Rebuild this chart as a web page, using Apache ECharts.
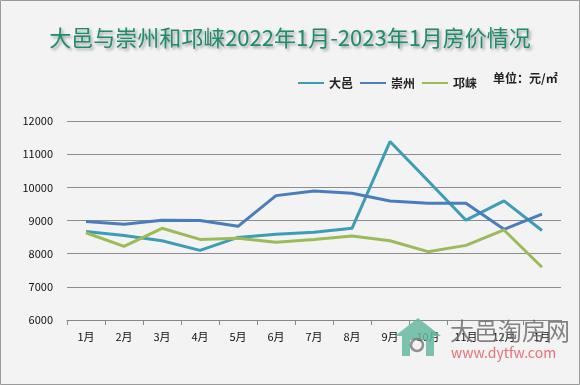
<!DOCTYPE html>
<html><head><meta charset="utf-8">
<script src="https://cdn.jsdelivr.net/npm/echarts@6/dist/echarts.min.js"></script>
<style>html,body{margin:0;padding:0;background:#fff}#c{width:580px;height:385px}</style>
</head><body><div id="c"></div>
<script>
const categories = ['1月','2月','3月','4月','5月','6月','7月','8月','9月','10月','11月','12月','1月'];
const dayi = [8670, 8550, 8390, 8100, 8490, 8585, 8645, 8765, 11380, 10200, 9010, 9590, 8700];
const chongzhou = [8970, 8885, 9005, 9000, 8825, 9750, 9890, 9820, 9590, 9520, 9520, 8735, 9190];
const qionglai = [8630, 8220, 8765, 8430, 8465, 8345, 8430, 8530, 8390, 8060, 8250, 8715, 7590];
const seriesNames = ['大邑','崇州','邛崃'];
const yTicks = [6000, 7000, 8000, 9000, 10000, 11000, 12000];

const chart = echarts.init(document.getElementById('c'), null, {renderer:'canvas'});
const font = '"Microsoft YaHei","Noto Sans CJK SC",sans-serif';
const mk = (name, data, color) => ({
  name, type:'line', data, symbol:'none', smooth:false,
  lineStyle:{color, width:3}, itemStyle:{color}
});
chart.setOption({
  backgroundColor:'#f3f3f3',
  animation:false,
  title:{
    text:'大邑与崇州和邛崃2022年1月-2023年1月房价情况',
    left:'center', top:22,
    textStyle:{color:'#1c8c6c', fontSize:22, fontWeight:'normal', fontFamily:font,
      textShadowColor:'rgba(0,0,0,0.35)', textShadowBlur:3, textShadowOffsetX:2, textShadowOffsetY:2}
  },
  legend:{
    data:seriesNames, right:98, top:72, itemWidth:26, itemHeight:2, itemGap:7,
    icon:'rect',
    textStyle:{fontSize:12, color:'#222', fontWeight:'bold', fontFamily:font}
  },
  grid:{left:67, right:19, top:121, bottom:65},
  xAxis:{
    type:'category', data:categories, boundaryGap:true,
    axisLine:{lineStyle:{color:'#888', width:1}},
    axisTick:{show:true, length:5, lineStyle:{color:'#888'}},
    axisLabel:{color:'#111', fontSize:11, margin:11, fontFamily:font}
  },
  yAxis:{
    type:'value', min:yTicks[0], max:yTicks[yTicks.length-1], interval:1000,
    axisLine:{show:false}, axisTick:{show:false},
    axisLabel:{color:'#111', fontSize:11, margin:14, fontFamily:font, formatter:v=>String(v)},
    splitLine:{lineStyle:{color:'#8c8c8c', width:1}}
  },
  series:[mk(seriesNames[0], dayi, '#3d9db6'), mk(seriesNames[1], chongzhou, '#4a7dbb'), mk(seriesNames[2], qionglai, '#9bbb59')],
  graphic:[
    {type:'rect', shape:{x:0.5,y:0.5,width:579,height:384}, style:{fill:'none', stroke:'#9a9a9a', lineWidth:1}, silent:true},
    {type:'text', left:493, top:72, style:{text:'单位：元/㎡', font:'bold 12px '+font, fill:'#222'}},
    {type:'polygon', shape:{points:[[395,336],[418,318],[441,336],[434,336],[434,356],[426,356],[426,340],[410,340],[410,356],[402,356],[402,336]]}, style:{fill:'rgba(100,185,160,0.85)'}, z:10},
    {type:'circle', shape:{cx:417, cy:345, r:6}, style:{fill:'none', stroke:'rgba(120,120,120,0.8)', lineWidth:2.5}, z:11},
    {type:'text', left:450, top:319, style:{text:'大邑淘房网', font:'24px '+font, fill:'rgba(110,110,110,0.85)'}, z:11},
    {type:'text', left:451, top:346, style:{text:'www.dytfw.com', font:'14px '+font, fill:'rgba(225,90,100,0.85)'}, z:11}
  ]
});
</script></body></html>
